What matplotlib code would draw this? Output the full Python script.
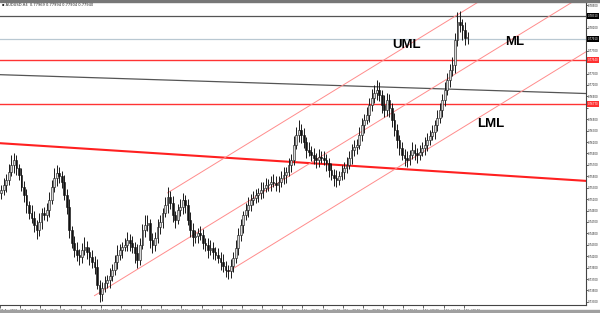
import matplotlib
matplotlib.use("Agg")
import matplotlib.pyplot as plt
from matplotlib.patches import Rectangle
from matplotlib.transforms import blended_transform_factory

# === DATA === #
SYMBOL_TEXT = "AUDUSD,H4  0.77969 0.77994 0.77904 0.77940"
FIRST_OPEN = 0.7520

# one candle = two H4 bars
closes = [
    0.7526, 0.7535, 0.7544, 0.7558, 0.7570, 0.7579, 0.7565, 0.7553, 0.7532, 0.7517,
    0.7500, 0.7486, 0.7477, 0.7465, 0.7456, 0.7470, 0.7486, 0.7482, 0.7491, 0.7509,
    0.7532, 0.7547, 0.7556, 0.7551, 0.7540, 0.7517, 0.7496, 0.7456, 0.7434, 0.7421,
    0.7413, 0.7409, 0.7421, 0.7427, 0.7418, 0.7409, 0.7400, 0.7391, 0.7360, 0.7344,
    0.7355, 0.7364, 0.7369, 0.7376, 0.7386, 0.7400, 0.7413, 0.7421, 0.7427, 0.7430,
    0.7439, 0.7434, 0.7427, 0.7416, 0.7404, 0.7430, 0.7456, 0.7465, 0.7468, 0.7439,
    0.7430, 0.7442, 0.7461, 0.7470, 0.7486, 0.7500, 0.7514, 0.7503, 0.7482, 0.7474,
    0.7491, 0.7496, 0.7509, 0.7500, 0.7474, 0.7456, 0.7444, 0.7446, 0.7451, 0.7447,
    0.7434, 0.7430, 0.7421, 0.7425, 0.7418, 0.7413, 0.7407, 0.7400, 0.7393, 0.7386,
    0.7384, 0.7393, 0.7407, 0.7425, 0.7447, 0.7465, 0.7482, 0.7491, 0.7500, 0.7509,
    0.7512, 0.7517, 0.7521, 0.7526, 0.7530, 0.7535, 0.7537, 0.7540, 0.7539, 0.7535,
    0.7540, 0.7547, 0.7553, 0.7558, 0.7570, 0.7579, 0.7605, 0.7622, 0.7631, 0.7622,
    0.7610, 0.7596, 0.7593, 0.7588, 0.7582, 0.7579, 0.7584, 0.7582, 0.7579, 0.7574,
    0.7561, 0.7553, 0.7547, 0.7544, 0.7551, 0.7558, 0.7565, 0.7570, 0.7582, 0.7596,
    0.7601, 0.7605, 0.7622, 0.7640, 0.7649, 0.7657, 0.7675, 0.7687, 0.7696, 0.7701,
    0.7692, 0.7675, 0.7666, 0.7684, 0.7670, 0.7649, 0.7631, 0.7614, 0.7600, 0.7588,
    0.7582, 0.7579, 0.7588, 0.7596, 0.7591, 0.7588, 0.7593, 0.7600, 0.7605, 0.7614,
    0.7621, 0.7628, 0.7640, 0.7652, 0.7666, 0.7684, 0.7701, 0.7719, 0.7736, 0.7745,
    0.7789, 0.7820, 0.7815, 0.7806, 0.7792, 0.7794,
]

# wick lengths in pips above / below the candle body
wick_hi = [
    8, 12, 10, 14, 18, 11, 9, 7, 12, 10,  10, 7, 14, 12, 9, 16, 8, 10, 12, 14,
    12, 18, 14, 10, 8, 12, 10, 14, 7, 12,  14, 10, 12, 16, 9, 8, 12, 10, 14, 8,
    10, 12, 8, 14, 10, 12, 16, 10, 8, 12,  14, 10, 12, 8, 16, 12, 10, 18, 14, 8,
    12, 10, 14, 12, 8, 14, 18, 10, 12, 8,  10, 14, 12, 8, 10, 14, 12, 10, 8, 12,
    10, 8, 12, 14, 10, 8, 12, 10, 14, 8,  8, 12, 10, 14, 12, 10, 8, 12, 14, 10,
    12, 10, 8, 14, 10, 12, 8, 10, 14, 12,  10, 12, 14, 8, 12, 10, 16, 14, 18, 10,
    12, 8, 14, 10, 12, 8, 14, 10, 12, 10,  8, 12, 10, 14, 8, 12, 10, 14, 12, 10,
    12, 10, 14, 12, 10, 14, 12, 16, 14, 18,  14, 10, 18, 12, 10, 8, 12, 10, 8, 10,
    10, 12, 8, 14, 10, 8, 12, 10, 14, 12,  10, 12, 8, 14, 12, 10, 14, 12, 10, 14,
    12, 18, 20, 10, 14, 8,
]
wick_lo = [
    10, 8, 12, 10, 8, 14, 12, 10, 8, 12,  14, 10, 8, 12, 16, 10, 12, 8, 10, 12,
    8, 10, 14, 12, 10, 8, 12, 14, 10, 12,  12, 14, 10, 8, 12, 14, 10, 12, 8, 14,
    12, 8, 10, 14, 10, 8, 12, 10, 14, 8,  10, 14, 12, 18, 14, 10, 8, 12, 10, 14,
    14, 10, 8, 12, 10, 8, 14, 10, 12, 14,  8, 10, 12, 14, 10, 12, 16, 10, 12, 8,
    12, 10, 14, 8, 12, 10, 8, 14, 10, 12,  14, 12, 10, 8, 12, 10, 14, 8, 12, 10,
    10, 8, 12, 10, 14, 8, 10, 12, 8, 10,  12, 8, 10, 14, 8, 12, 10, 8, 12, 14,
    10, 14, 8, 12, 10, 14, 12, 8, 10, 14,  12, 10, 14, 12, 10, 8, 12, 10, 8, 10,
    10, 12, 8, 10, 14, 8, 12, 10, 8, 12,  10, 14, 12, 10, 16, 12, 10, 14, 12, 10,
    14, 12, 10, 8, 12, 14, 10, 8, 12, 10,  10, 8, 12, 10, 8, 12, 10, 8, 12, 10,
    14, 10, 12, 18, 12, 10,
]

date_labels = [
    "21 Apr 2017", "25 Apr 16:00", "28 Apr 08:00", "3 May 00:00", "5 May 16:00",
    "10 May 08:00", "15 May 00:00", "17 May 16:00", "22 May 08:00", "25 May 00:00",
    "29 May 16:00", "1 Jun 08:00", "6 Jun 00:00", "8 Jun 16:00", "13 Jun 08:00",
    "16 Jun 00:00", "20 Jun 16:00", "23 Jun 08:00", "28 Jun 00:00", "30 Jun 16:00",
    "5 Jul 08:00", "10 Jul 00:00", "12 Jul 16:00", "17 Jul 08:00",
]

price_ticks = [
    0.7850, 0.7830, 0.7810, 0.7790, 0.7770, 0.7750, 0.7730, 0.7710, 0.7690,
    0.7670, 0.7650, 0.7630, 0.7610, 0.7590, 0.7570, 0.7550, 0.7530, 0.7510,
    0.7490, 0.7470, 0.7450, 0.7430, 0.7410, 0.7390, 0.7370, 0.7350, 0.7330,
]

# horizontal levels
top_level = 0.7831
bid_level = 0.7791
red_levels = [0.7754, 0.7677]

# channel anchors (H4 bar index, price) and slope in price per bar
ml_anchor = (75, 0.7341)
uml_anchor = (133, 0.7521)
lml_anchor = (181, 0.7383)
channel_slope = 0.0001356

# long trend lines (bar, price) -> (bar, price)
gray_trend = [(0, 0.7728), (465, 0.7695)]
red_trend = [(0, 0.7608), (465, 0.7542)]

# === FIGURE === #
W, H = 600, 313
fig = plt.figure(figsize=(W / 100, H / 100), dpi=100)
fig.patch.set_facecolor("white")
ax = fig.add_axes([0, 8 / H, 586 / W, 303 / H])
ax.set_xlim(0, 465)
ax.set_ylim(0.73246, 0.78553)

# candles
opens = [FIRST_OPEN] + closes[:-1]
xs = [2 * j + 1 for j in range(len(closes))]
for x, o, c, wh, wl in zip(xs, opens, closes, wick_hi, wick_lo):
    top = max(o, c) + wh * 0.0001
    bot = min(o, c) - wl * 0.0001
    ax.vlines(x, bot, top, color="#1a1a1a", lw=0.7, zorder=3)
    body = abs(c - o) if abs(c - o) > 0.00003 else 0.00003
    face = "#d8d8d8" if c >= o else "#111111"
    ax.add_patch(Rectangle((x - 0.7, min(o, c)), 1.4, body, facecolor=face,
                           edgecolor="#111111", lw=0.4, zorder=4))

# horizontal levels
ax.axhline(top_level, color="#555555", lw=0.9, zorder=2)
ax.axhline(bid_level, color="#b9c8d2", lw=0.9, zorder=2)
for lv in red_levels:
    ax.axhline(lv, color="#ff3333", lw=1.0, zorder=2)

# sloped trend lines
ax.plot([p[0] for p in gray_trend], [p[1] for p in gray_trend], color="#555555", lw=0.9, zorder=2)
ax.plot([p[0] for p in red_trend], [p[1] for p in red_trend], color="#ff2020", lw=1.5, zorder=2)

# channel
for bx, by in (ml_anchor, uml_anchor, lml_anchor):
    ax.plot([bx, 465], [by, by + channel_slope * (465 - bx)], color="#ff8c8c", lw=0.7, zorder=2)

# labels on chart
ax.text(311, 0.7780, "UML", fontsize=9.5, fontweight="bold", family="Liberation Sans", va="center")
ax.text(401, 0.7785, "ML", fontsize=9.5, fontweight="bold", family="Liberation Sans", va="center")
ax.text(379, 0.7642, "LML", fontsize=9.5, fontweight="bold", family="Liberation Sans", va="center")

# axes styling
for s in ("left", "top"):
    ax.spines[s].set_visible(False)
for s in ("right", "bottom"):
    ax.spines[s].set_color("#444444")
    ax.spines[s].set_linewidth(0.8)

# hide tick labels that sit under a level box, as the terminal does
box_levels = [top_level, bid_level] + red_levels
tick_text = []
for p in price_ticks:
    if any(abs(p - lv) < 0.0008 for lv in box_levels):
        tick_text.append("")
    else:
        tick_text.append(f"{p:.5f}")

ax.yaxis.tick_right()
ax.set_yticks(price_ticks)
ax.set_yticklabels(tick_text)
ax.tick_params(axis="y", labelsize=1.9, length=1.2, width=0.5, pad=0.4, colors="#222222")
ax.set_xticks([16 * i for i in range(len(date_labels))])
ax.set_xticklabels(date_labels, ha="left")
ax.tick_params(axis="x", labelsize=2.0, length=2, width=0.5, pad=0.8, colors="#222222")

# price label boxes on the right axis
tr = blended_transform_factory(ax.transAxes, ax.transData)
for lv, fc in ((top_level, "black"), (bid_level, "black"),
               (red_levels[0], "#ff3030"), (red_levels[1], "#ff3030")):
    ax.text(1.003, lv, f"{lv:.5f}", transform=tr, fontsize=1.9, color="white",
            ha="left", va="center", zorder=6,
            bbox=dict(boxstyle="square,pad=0.3", fc=fc, ec="none"))

# window chrome
fig.patches.append(Rectangle((0, 311 / H), 1, 2 / H, transform=fig.transFigure,
                             color="#777777", zorder=0))
fig.patches.append(Rectangle((0, 0), 1, 3 / H, transform=fig.transFigure,
                             color="#a0a0a0", zorder=0))
fig.text(0.004, 1 - 5 / H, "\u25aa " + SYMBOL_TEXT, fontsize=2.6, va="center", color="#222222")

fig.savefig("out.png", dpi=100)
